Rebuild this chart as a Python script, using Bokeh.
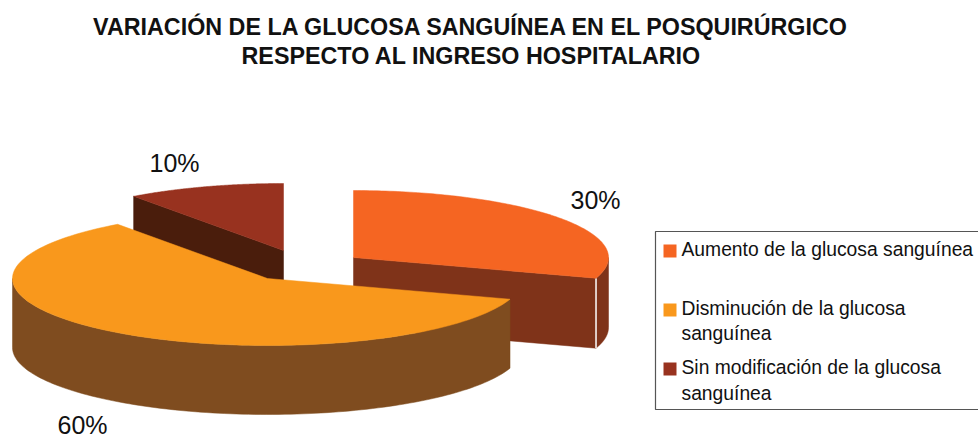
import numpy as np
from bokeh.plotting import figure
from bokeh.embed import file_html
from bokeh.resources import INLINE
from bokeh.models import Range1d
from bokeh.core.properties import value

title_lines = ["VARIACIÓN DE LA GLUCOSA SANGUÍNEA EN EL POSQUIRÚRGICO",
               "RESPECTO AL INGRESO HOSPITALARIO"]
categories = ["Aumento de la glucosa sanguínea",
              "Disminución de la glucosa sanguínea",
              "Sin modificación de la glucosa sanguínea"]
values = [30, 60, 10]
labels = ["30%", "60%", "10%"]
top_colors = ["#f56522", "#f9981c", "#98321f"]
wall_colors = ["#7f3319", "#7f4c1f", "#4a1d0c"]

# projection of the tilted pie, in page pixels
RX, RY = 255, 67
DEPTHS = [70, 69, 70]
centers = [(353, 257), (267, 278), (283, 250)]

p = figure(width=978, height=438, output_backend="svg", toolbar_location=None,
           x_range=Range1d(0, 978), y_range=Range1d(438, 0),
           min_border=0, outline_line_color=None)
p.axis.visible = False
p.grid.visible = False


def pt(c, a, drop=0):
    a = np.radians(a)
    return c[0] + RX * np.sin(a), c[1] - RY * np.cos(a) + drop


def arc(c, a0, a1, drop=0):
    t = np.linspace(a0, a1, 120)
    return pt(c, t, drop)


def poly(xs, ys, color):
    p.patch(list(xs), list(ys), fill_color=color, line_color=color, line_width=0.5)


bounds = np.cumsum([0] + values) * 3.6
spans = list(zip(bounds[:-1], bounds[1:]))

for i in [2, 0, 1]:
    c, (a0, a1), d = centers[i], spans[i], DEPTHS[i]
    if i == 2:
        x0, y0 = pt(c, a0)
        poly([x0, c[0], c[0], x0], [y0, c[1], c[1] + d, y0 + d], wall_colors[i])
    if i == 0:
        x1, y1 = pt(c, a1)
        poly([c[0], x1, x1, c[0]], [c[1], y1, y1 + d, c[1] + d], wall_colors[i])
    lo, hi = max(a0, 90), min(a1, 270)
    if hi > lo:
        ax, ay = arc(c, lo, hi)
        bx, by = arc(c, hi, lo, d)
        poly(np.r_[ax, bx], np.r_[ay, by], wall_colors[i])
    if i == 0:
        p.line([x1, x1], [y1, y1 + d], line_color="white", line_width=1.5)
    fx, fy = arc(c, a0, a1)
    poly(np.r_[c[0], fx], np.r_[c[1], fy], top_colors[i])

lab_x = [570, 57, 149]
lab_y = [199, 424, 162]
p.text(lab_x, lab_y, text=labels, text_font=value("Liberation Sans"), text_font_size="25px",
       text_color="#111111", text_align="left", text_baseline="alphabetic")

p.text([471, 471], [26, 55], text=title_lines, text_font=value("Liberation Sans"),
       text_font_size="23.3px", text_font_style="bold", text_color="#111111",
       text_align="center", text_baseline="alphabetic")

# legend
p.line([990, 655, 655, 990], [231, 231, 409, 409], line_color="#555555", line_width=1.2)
sq_x = [663, 663, 663]
sq_y = [244, 303, 362]
for x, y, col in zip(sq_x, sq_y, top_colors):
    p.rect([x + 6.5], [y + 6.5], 13, 13, fill_color=col, line_color=None)
leg_lines = ["Aumento de la glucosa sanguínea", "Disminución de la glucosa", "sanguínea",
             "Sin modificación de la glucosa", "sanguínea"]
leg_base = [249, 308, 333, 367, 393]
p.text([681] * 5, leg_base, text=leg_lines, text_font=value("Liberation Sans"),
       text_font_size="19.3px", text_color="#111111", text_align="left",
       text_baseline="alphabetic")

open("out.html", "w").write(file_html(p, INLINE))
